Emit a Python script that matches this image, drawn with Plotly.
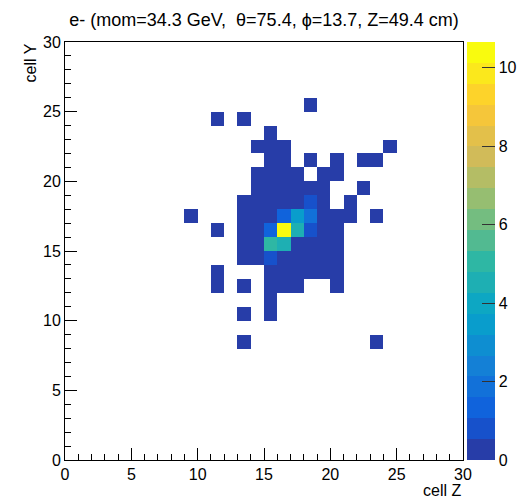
import numpy as np
import plotly.graph_objects as go

# Calorimeter cell grid: 30 x 30 cells in (cell Z, cell Y)
n_cells = 30
low_deposit = 0.3  # cells that only collect a small deposit

# columns with a small deposit, per row (cell Y index)
low_cells = {
    25: [18],
    24: [11, 13],
    23: [15],
    22: [14, 15, 16, 24],
    21: [15, 16, 18, 20, 22, 23],
    20: [14, 15, 16, 17, 19, 20],
    19: [14, 15, 16, 17, 18, 19, 22],
    18: [13, 14, 15, 16, 17, 18, 19, 21],
    17: [9, 13, 14, 15, 16, 17, 18, 19, 20, 21, 23],
    16: [11, 13, 14, 15, 16, 17, 18, 19, 20],
    15: [13, 14, 15, 16, 17, 18, 19, 20],
    14: [13, 14, 15, 16, 17, 18, 19, 20],
    13: [11, 15, 16, 17, 18, 19, 20],
    12: [11, 13, 15, 16, 17, 20],
    11: [15],
    10: [13, 15],
    8: [13, 23],
}

# shower core: (cell Z, cell Y) -> deposited energy
core_z = [16, 15, 16, 17, 17, 16, 18, 15, 18, 18, 15]
core_y = [16, 15, 15, 16, 17, 17, 17, 16, 18, 16, 14]
core_e = [10.66, 5.1, 4.6, 4.7, 3.3, 1.4, 1.8, 1.5, 0.9, 0.9, 0.9]

z = np.full((n_cells, n_cells), np.nan)
for row, cols in low_cells.items():
    for col in cols:
        z[row, col] = low_deposit
for cz, cy, e in zip(core_z, core_y, core_e):
    z[cy, cz] = e

zmax = float(np.nanmax(z))
centers = np.arange(n_cells) + 0.5

# ROOT kBird palette, 255 colours, sampled into 20 contour levels
stops = [0.0, 0.125, 0.25, 0.375, 0.5, 0.625, 0.75, 0.875, 1.0]
red = [0.2082, 0.0592, 0.0780, 0.0232, 0.1802, 0.5301, 0.8186, 0.9956, 0.9764]
green = [0.1664, 0.3599, 0.5041, 0.6419, 0.7178, 0.7492, 0.7328, 0.7862, 0.9832]
blue = [0.5293, 0.8684, 0.8385, 0.7914, 0.6425, 0.4662, 0.3499, 0.1968, 0.0539]
n_colors, n_levels = 255, 20


def bird(t):
    r = np.interp(t, stops, red)
    g = np.interp(t, stops, green)
    b = np.interp(t, stops, blue)
    return "rgb(%d,%d,%d)" % (round(r * 255), round(g * 255), round(b * 255))


colorscale = []
for i in range(n_levels):
    idx = int((i + 0.99) * n_colors / n_levels)
    c = bird(min(idx, n_colors - 1) / (n_colors - 1))
    colorscale.append([i / n_levels, c])
    colorscale.append([(i + 1) / n_levels, c])

font = "Liberation Sans, Arial, Helvetica, sans-serif"

fig = go.Figure(
    go.Heatmap(
        x=centers,
        y=centers,
        z=z,
        zmin=0,
        zmax=zmax,
        colorscale=colorscale,
        hoverongaps=False,
        colorbar=dict(
            thickness=28,
            thicknessmode="pixels",
            len=418,
            lenmode="pixels",
            x=1.01,
            xanchor="left",
            xref="paper",
            y=0,
            yanchor="bottom",
            yref="paper",
            outlinewidth=0,
            tickmode="array",
            tickvals=[0, 2, 4, 6, 8, 10],
            ticks="inside",
            ticklen=13,
            tickcolor="#333",
            tickwidth=1,
            tickfont=dict(family=font, size=16, color="black"),
            ypad=0,
            xpad=0,
        ),
    )
)

axis_common = dict(
    range=[0, 30],
    tickmode="linear",
    tick0=0,
    dtick=5,
    ticks="inside",
    ticklen=12,
    tickcolor="black",
    tickwidth=1,
    minor=dict(dtick=1, ticks="inside", ticklen=6, tickcolor="black"),
    showgrid=False,
    zeroline=False,
    showline=True,
    linecolor="black",
    linewidth=1,
    mirror=True,
    tickfont=dict(family=font, size=16, color="black"),
)

fig.update_layout(
    width=526,
    height=501,
    margin=dict(l=65, r=63, t=42, b=41, autoexpand=False),
    paper_bgcolor="white",
    plot_bgcolor="white",
    xaxis=dict(axis_common),
    yaxis=dict(axis_common),
    title=dict(
        text="e- (mom=34.3 GeV,  \u03b8=75.4, \u03d5=13.7, Z=49.4 cm)",
        x=264 / 526,
        xanchor="center",
        xref="container",
        y=1 - 20 / 501,
        yanchor="middle",
        yref="container",
        font=dict(family=font, size=18, color="black"),
    ),
    annotations=[
        dict(
            text="cell Z",
            xref="paper",
            yref="paper",
            x=1,
            y=-(490 - 460) / 418,
            xanchor="right",
            yanchor="middle",
            showarrow=False,
            font=dict(family=font, size=16, color="black"),
        ),
        dict(
            text="cell Y",
            xref="paper",
            yref="paper",
            x=(30 - 65) / 398,
            y=1,
            xanchor="center",
            yanchor="top",
            textangle=-90,
            showarrow=False,
            font=dict(family=font, size=16, color="black"),
        ),
    ],
)

fig.write_html("out.html")
